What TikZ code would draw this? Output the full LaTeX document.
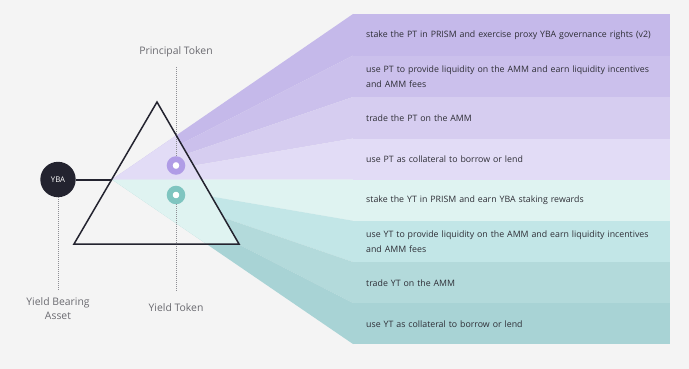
\documentclass[tikz,border=0pt]{standalone}
\usepackage{fontspec}
\setmainfont{Open Sans}
\definecolor{bg}{HTML}{F4F4F4}
\definecolor{pv1}{HTML}{C5B9EA}
\definecolor{pv2}{HTML}{CBC0EC}
\definecolor{pv3}{HTML}{D6CDF0}
\definecolor{pv4}{HTML}{E2DCF6}
\definecolor{tl5}{HTML}{DFF3F1}
\definecolor{tl6}{HTML}{C2E6E7}
\definecolor{tl7}{HTML}{B3DADB}
\definecolor{tl8}{HTML}{A8D3D5}
\definecolor{txt}{HTML}{2E2E36}
\definecolor{lbl}{HTML}{6A6A70}
\definecolor{dark}{HTML}{23232F}
\definecolor{dotc}{HTML}{8E8E94}
\definecolor{ringp}{HTML}{B09CE6}
\definecolor{ringt}{HTML}{7FC5C0}
\tikzset{
  panel/.style={draw=none, anchor=north west, minimum width=317pt, minimum height=41.25pt,
    text width=291pt, inner xsep=13pt, inner ysep=0pt, align=left,
    font=\fontsize{8.8}{15}\selectfont, text=txt},
  tokcap/.style={font=\fontsize{10.4}{14}\selectfont, text=lbl, align=center, inner sep=1pt},
  dotline/.style={draw=dotc, line width=0.8pt, dash pattern=on 1pt off 1pt},
  tri/.style={draw=dark, line width=1.5pt, line join=miter},
  conn/.style={draw=dark, line width=2pt},
  ring/.style={circle, minimum size=12.6pt, inner sep=0pt, line width=5.8pt},
}
\begin{document}
\begin{tikzpicture}[x=1pt,y=-1pt]
\fill[bg] (0,0) rectangle (689,369);
\useasboundingbox (0,0) rectangle (689,369);
% geometry
\coordinate (S) at (112,179.5);
\coordinate (tA) at (157,102);
\coordinate (tL) at (74,244);
\coordinate (tR) at (239,244);
\coordinate (b0) at (353,14);
\coordinate (b1) at (353,55.5);
\coordinate (b2) at (353,97);
\coordinate (b3) at (353,138.5);
\coordinate (b4) at (353,179.5);
\coordinate (b5) at (353,220.75);
\coordinate (b6) at (353,262);
\coordinate (b7) at (353,303);
\coordinate (b8) at (353,344);
% beams
\fill[pv1] (S) -- (b0) -- (b1) -- cycle;
\fill[pv2] (S) -- (b1) -- (b2) -- cycle;
\fill[pv3] (S) -- (b2) -- (b3) -- cycle;
\fill[pv4] (S) -- (b3) -- (b4) -- cycle;
\fill[tl5] (S) -- (b4) -- (b5) -- cycle;
\fill[tl6] (S) -- (b5) -- (b6) -- cycle;
\fill[tl7] (S) -- (b6) -- (b7) -- cycle;
\fill[tl8] (S) -- (b7) -- (b8) -- cycle;
% inside the prism
\begin{scope}
\clip (tA) -- (tL) -- (tR) -- cycle;
\fill[pv4] (S) -- (b0) -- (b4) -- cycle;
\fill[tl5] (S) -- (b4) -- (b8) -- cycle;
\end{scope}
% panels
\node[panel, fill=pv1, minimum height=41.5pt] (p1) at (b0) {\mbox{stake the PT in PRISM and exercise proxy YBA governance rights (v2)}};
\node[panel, fill=pv2, minimum height=41.5pt] (p2) at (b1) {\mbox{use PT to provide liquidity on the AMM and earn liquidity incentives}\\and AMM fees};
\node[panel, fill=pv3, minimum height=41.5pt] (p3) at (b2) {trade the PT on the AMM};
\node[panel, fill=pv4, minimum height=41pt] (p4) at (b3) {use PT as collateral to borrow or lend};
\node[panel, fill=tl5] (p5) at (b4) {stake the YT in PRISM and earn YBA staking rewards};
\node[panel, fill=tl6] (p6) at (b5) {\mbox{use YT to provide liquidity on the AMM and earn liquidity incentives}\\and AMM fees};
\node[panel, fill=tl7, minimum height=41pt] (p7) at (b6) {trade YT on the AMM};
\node[panel, fill=tl8, minimum height=41pt] (p8) at (b7) {use YT as collateral to borrow or lend};
% labels and markers
\node[tokcap] (pt) at (176,52) {Principal Token};
\node[tokcap] (yt) at (176,308) {Yield Token};
\node[tokcap] (yb) at (58,309) {Yield Bearing\\Asset};
\node[ring, draw=ringp, fill=white] (pring) at (176,165.5) {};
\node[ring, draw=ringt, fill=white] (tring) at (176,195) {};
\draw[dotline, shorten <=9pt] (pt.south) -- (pring.north);
\draw[dotline, shorten >=11pt] (tring.south) -- (yt.north);
% prism
\draw[tri] (tA) -- (tL) -- (tR) -- cycle;
% YBA
\node[circle, fill=dark, minimum size=35.4pt, inner sep=0pt, text=white, font=\fontsize{7.8}{9}\selectfont] (yba) at (58,179.5) {YBA};
\draw[conn] (yba.east) -- (S);
\draw[dotline, shorten >=6pt] (yba.south) -- (yb.north);
\end{tikzpicture}
\end{document}
